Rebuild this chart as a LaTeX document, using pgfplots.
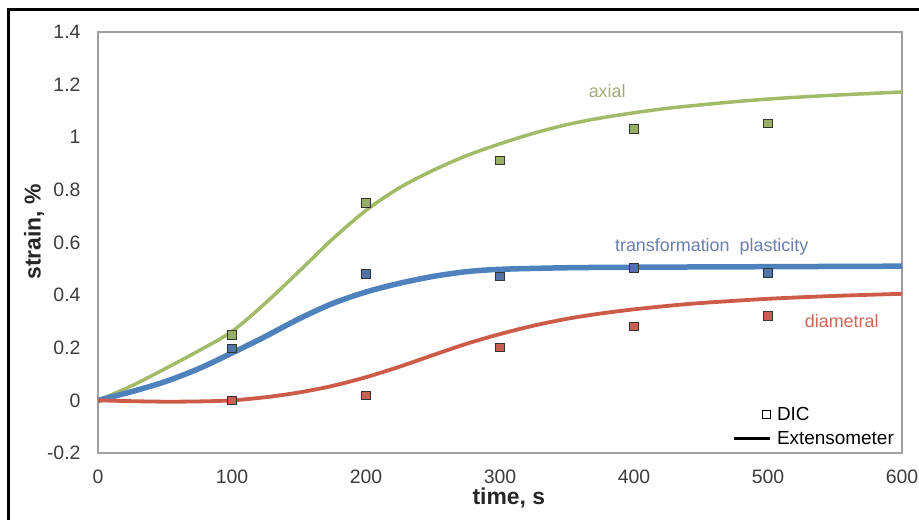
\documentclass[border=0pt]{standalone}
\usepackage{fontspec}
\setmainfont{Liberation Sans}
\usepackage{pgfplots}
\pgfplotsset{compat=1.18}

\definecolor{axgreen}{RGB}{163,186,104}
\definecolor{axblue}{RGB}{79,129,189}
\definecolor{axred}{RGB}{204,92,72}
\definecolor{mkgreen}{RGB}{150,175,100}
\definecolor{mkblue}{RGB}{80,115,170}
\definecolor{mkred}{RGB}{200,95,80}
\definecolor{frame}{RGB}{160,160,160}
\definecolor{ticktext}{RGB}{60,60,60}

% extensometer curves
\pgfplotstableread{
t eps
0 0
25 0.055
50 0.12
75 0.188
100 0.262
125 0.37
150 0.49
175 0.613
200 0.722
225 0.808
250 0.874
275 0.93
300 0.975
325 1.015
350 1.048
375 1.073
400 1.093
425 1.11
450 1.123
475 1.135
500 1.145
525 1.153
550 1.16
575 1.166
600 1.172
}\axialtab

\pgfplotstableread{
t eps
0 0
25 0.033
50 0.071
75 0.12
100 0.18
125 0.243
150 0.31
175 0.368
200 0.412
225 0.445
250 0.471
275 0.489
300 0.498
350 0.504
400 0.506
500 0.508
600 0.51
}\tptab

\pgfplotstableread{
t eps
0 0
25 -0.003
50 -0.005
75 -0.004
100 0.0
125 0.012
150 0.03
175 0.055
200 0.088
225 0.128
250 0.172
275 0.215
300 0.252
325 0.284
350 0.31
375 0.33
400 0.346
425 0.359
450 0.37
500 0.386
550 0.397
600 0.405
}\diamtab

% DIC points
\pgfplotstableread{
t axial tp diam
100 0.249 0.198 0.0
200 0.750 0.480 0.018
300 0.912 0.471 0.201
400 1.032 0.503 0.281
500 1.053 0.485 0.321
}\dictab

\begin{document}
\begin{tikzpicture}[x=1bp,y=1bp]
  \path[use as bounding box] (0,0) rectangle (919,520);
  \draw[black, line width=3.5bp] (8.5,0) -- (8.5,510.5) -- (919,510.5);

  \begin{axis}[
      at={(98bp,67bp)},
      anchor=south west,
      scale only axis,
      width=804bp,
      height=421bp,
      xmin=0, xmax=600,
      ymin=-0.2, ymax=1.4,
      xtick={0,100,...,600},
      ytick={-0.2,0,0.2,0.4,0.6,0.8,1,1.2,1.4},
      major tick length=0pt,
      axis line style={draw=frame, line width=1.2bp},
      /pgf/number format/assume math mode=true,
      tick label style={font=\fontsize{19.5}{21}\selectfont, text=ticktext},
      xticklabel style={yshift=-13bp},
      yticklabel style={xshift=-14bp},
      xlabel={\textbf{time, s}},
      ylabel={\textbf{strain, \%}},
      label style={font=\fontsize{23}{26}\selectfont, text=black!85},
      xlabel style={at={(axis description cs:0.511,-0.108)}, anchor=center},
      ylabel style={at={(axis description cs:-0.0796,0.525)}, anchor=center, rotate=0},
      legend style={
          draw=none, fill=none,
          at={(axis cs:600,-0.2)}, anchor=south east,
          xshift=-4bp, yshift=3bp,
          font=\fontsize{19}{21}\selectfont,
          cells={anchor=west},
          inner sep=2bp,
          row sep=5bp,
        },
      clip=false,
    ]

    % Extensometer curves
    \addplot[axgreen, line width=3.5bp, smooth, forget plot] table[x=t, y=eps] {\axialtab};
    \addplot[axblue, line width=5.5bp, smooth, forget plot] table[x=t, y=eps] {\tptab};
    \addplot[axred, line width=3.8bp, smooth, forget plot] table[x=t, y=eps] {\diamtab};

    % DIC squares
    \addplot[only marks, mark=square*, mark size=4.3bp,
      mark options={draw=black!80, fill=mkgreen, line width=0.9bp}, forget plot]
      table[x=t, y=axial] {\dictab};
    \addplot[only marks, mark=square*, mark size=4.3bp,
      mark options={draw=black!80, fill=mkblue, line width=0.9bp}, forget plot]
      table[x=t, y=tp] {\dictab};
    \addplot[only marks, mark=square*, mark size=4.3bp,
      mark options={draw=black!80, fill=mkred, line width=0.9bp}, forget plot]
      table[x=t, y=diam] {\dictab};

    % series labels
    \node[text={rgb,255:red,160;green,172;blue,125}, font=\fontsize{18}{20}\selectfont]
      at (axis cs:380,1.177) {axial};
    \node[text={rgb,255:red,105;green,128;blue,172}, font=\fontsize{18}{20}\selectfont]
      at (axis cs:458,0.584) {transformation\ \ plasticity};
    \node[text={rgb,255:red,200;green,105;blue,85}, font=\fontsize{18}{20}\selectfont]
      at (axis cs:555,0.300) {diametral};

    % legend
    \addlegendimage{legend image code/.code={
        \path[draw=none, fill=none] (0bp,-4bp) rectangle (41bp,4bp);
        \draw[black, line width=1bp, fill=white] (28bp,-4bp) rectangle (36bp,4bp);}}
    \addlegendentry{DIC}
    \addlegendimage{legend image code/.code={
        \path[draw=none, fill=none] (0bp,-4bp) rectangle (41bp,4bp);
        \draw[black, line width=3.5bp] (0bp,0bp) -- (36bp,0bp);}}
    \addlegendentry{Extensometer}

  \end{axis}
\end{tikzpicture}
\end{document}
